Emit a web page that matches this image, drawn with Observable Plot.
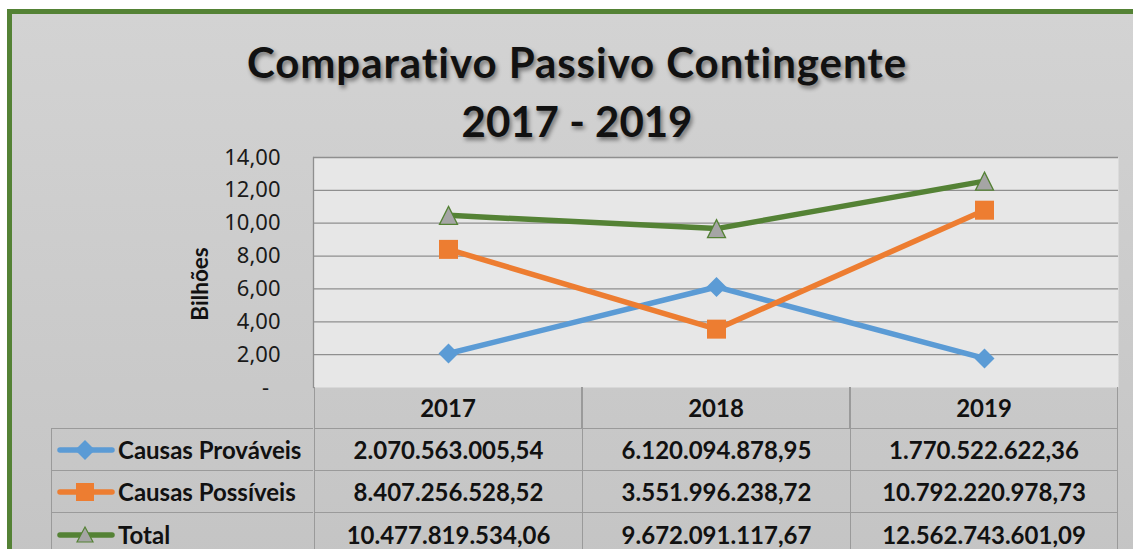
<!DOCTYPE html>
<html><head><meta charset="utf-8">
<script src="https://cdn.jsdelivr.net/npm/d3@7"></script>
<script src="https://cdn.jsdelivr.net/npm/@observablehq/plot@0.6"></script>
<style>
html,body{margin:0;padding:0;background:#fff;}
#wrap{position:relative;width:1133px;height:549px;overflow:hidden;font-family:Lato,"Open Sans",sans-serif;color:#111;}
#bg{position:absolute;left:7px;top:9px;width:1200px;height:600px;box-sizing:border-box;border:5px solid #548235;border-right:none;border-bottom:none;background:linear-gradient(#d3d3d3,#c3c3c3);}
.title{position:absolute;left:77px;width:1000px;text-align:center;font-weight:700;font-size:42px;line-height:1;white-space:nowrap;text-shadow:2px 3px 4px rgba(0,0,0,0.45);}
#chart{position:absolute;left:0;top:0;}
#ylab{position:absolute;left:150px;top:272px;width:100px;height:24px;line-height:24px;text-align:center;font-weight:700;font-size:22.5px;transform:rotate(-90deg);white-space:nowrap;}
.cell{position:absolute;box-sizing:border-box;display:flex;align-items:center;justify-content:center;font-weight:700;font-size:24px;white-space:nowrap;}
.hcell{justify-content:flex-start;}
.key{margin-left:5px;margin-right:3px;flex:none;}
</style>
</head><body>
<div id="wrap">
  <div id="bg"></div>
  <div class="title" id="t1" style="top:41px;letter-spacing:0.95px"></div>
  <div class="title" id="t2" style="top:100px"></div>
  <div id="chart"></div>
  <div id="ylab"></div>
  <div id="table"></div>
</div>
<script>
// ---- data ----
const titleLines = ["Comparativo Passivo Contingente", "2017 - 2019"];
const yLabel = "Bilhões";
const years = ["2017", "2018", "2019"];
const seriesNames = ["Causas Prováveis", "Causas Possíveis", "Total"];
const provaveis = [2070563005.54, 6120094878.95, 1770522622.36];
const possiveis = [8407256528.52, 3551996238.72, 10792220978.73];
const total = [10477819534.06, 9672091117.67, 12562743601.09];
const yTicks = [0, 2, 4, 6, 8, 10, 12, 14];
const lineColors = ["#5b9bd5", "#ed7d31", "#548235"];
const markerFills = ["#5b9bd5", "#ed7d31", "#a5a5a5"];

const seriesValues = [provaveis, possiveis, total];
const rows = [];
seriesNames.forEach((s, i) => years.forEach((y, j) => rows.push({series: s, year: y, value: seriesValues[i][j] / 1e9})));

// custom symbols (r = half width)
const rOf = size => Math.sqrt(size / Math.PI);
const diamond = {draw(c, size) { const r = rOf(size); c.moveTo(0, -r); c.lineTo(r, 0); c.lineTo(0, r); c.lineTo(-r, 0); c.closePath(); }};
const square = {draw(c, size) { const r = rOf(size); c.moveTo(-r, -r); c.lineTo(r, -r); c.lineTo(r, r); c.lineTo(-r, r); c.closePath(); }};
const triangle = {draw(c, size) { const r = rOf(size); c.moveTo(0, -r); c.lineTo(r, r); c.lineTo(-r, r); c.closePath(); }};
const symbols = [diamond, square, triangle];
const radii = [10, 9.5, 9];

document.getElementById("t1").textContent = titleLines[0];
document.getElementById("t2").textContent = titleLines[1];
document.getElementById("ylab").textContent = yLabel;

const fmtTick = d => d === 0 ? "-\u00a0\u00a0" : d.toFixed(2).replace(".", ",");

const marks = [
  Plot.frame({fill: "#e7e7e7", stroke: null}),
  Plot.gridY(yTicks.filter(d => d > 0), {stroke: "#8f8f8f", strokeOpacity: 1, strokeWidth: 1.3}),
  Plot.frame({anchor: "left", stroke: "#8f8f8f", strokeWidth: 1.3}),
  Plot.axisY(yTicks, {tickSize: 0, tickPadding: 33, tickFormat: fmtTick, fontSize: 22, fill: "#1a1a1a", label: null}),
  Plot.line(rows, {x: "year", y: "value", z: "series", stroke: "series", strokeWidth: 5.5, strokeLinejoin: "round"})
];
seriesNames.forEach((s, i) => {
  marks.push(Plot.dot(rows.filter(d => d.series === s), {
    x: "year", y: "value", symbol: symbols[i], r: radii[i], fill: markerFills[i],
    stroke: i === 2 ? lineColors[2] : "none", strokeWidth: 1.3
  }));
});

const plot = Plot.plot({
  width: 1133, height: 549,
  marginLeft: 313, marginRight: 15, marginTop: 157, marginBottom: 162,
  style: {background: "transparent", overflow: "visible"},
  x: {domain: years, type: "band", padding: 0, axis: null},
  y: {domain: [0, 14], axis: null},
  color: {domain: seriesNames, range: lineColors},
  marks
});
document.getElementById("chart").appendChild(plot);

// ---- data table ----
const xs = plot.scale("x");
const bw = xs.bandwidth;
const fmtNum = v => {
  const [i, f] = v.toFixed(2).split(".");
  return i.replace(/\B(?=(\d{3})+(?!\d))/g, ".") + "," + f;
};
const tbl = document.getElementById("table");
const B = "1.5px solid #9a9a9a";
const rowTop = [387, 428, 470, 512];
const rowH = [41, 42, 42, 44];
function cell(x, y, w, h, html, cls, borders) {
  const d = document.createElement("div");
  d.className = "cell" + (cls ? " " + cls : "");
  Object.assign(d.style, {left: x + "px", top: y + "px", width: w + "px", height: h + "px"});
  for (const b of borders) d.style["border" + b] = B;
  d.innerHTML = html;
  tbl.appendChild(d);
}
years.forEach((y, j) => {
  const x0 = xs.apply(y);
  cell(x0, rowTop[0], bw, rowH[0], y, "", ["Left", "Right"]);
});
function keySvg(i) {
  const sym = i === 0
    ? `<path d="M28 -10 L38 0 L28 10 L18 0Z" fill="${markerFills[0]}"/>`
    : i === 1
    ? `<rect x="19" y="-9" width="18" height="18" fill="${markerFills[1]}"/>`
    : `<path d="M28 -8 L36 7 L20 7Z" fill="${markerFills[2]}" stroke="${lineColors[2]}" stroke-width="1.2"/>`;
  return `<svg class="key" width="58" height="24" viewBox="0 -12 58 24"><line x1="3" x2="55" y1="0" y2="0" stroke="${lineColors[i]}" stroke-width="5.5" stroke-linecap="round"/>${sym}</svg>`;
}
seriesNames.forEach((s, i) => {
  const y = rowTop[i + 1], h = rowH[i + 1];
  cell(51, y, 313 - 51, h, keySvg(i) + `<span>${s}</span>`, "hcell", ["Left", "Top"]);
  years.forEach((yr, j) => {
    const x0 = xs.apply(yr);
    cell(x0, y, bw, h, fmtNum(seriesValues[i][j]), "", ["Left", "Top", ...(j === years.length - 1 ? ["Right"] : [])]);
  });
});
</script>
</body></html>
